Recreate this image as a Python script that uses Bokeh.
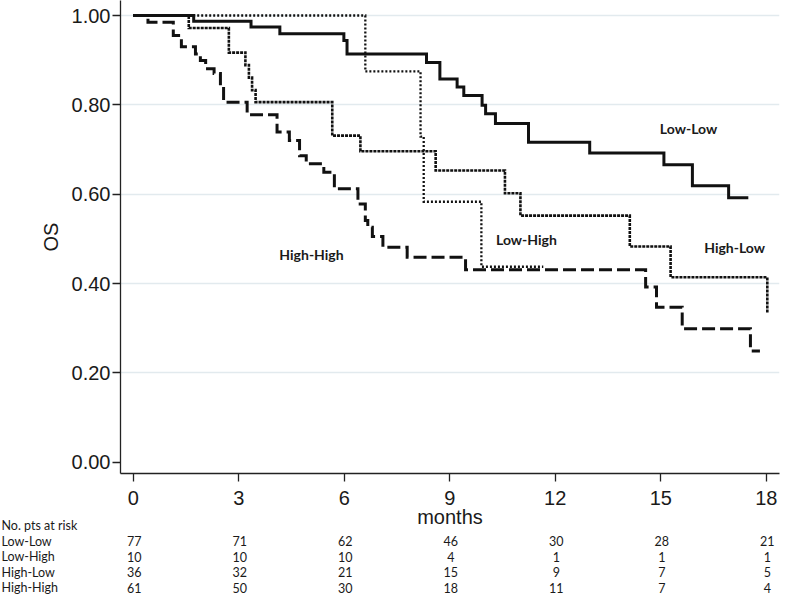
from bokeh.plotting import figure
from bokeh.layouts import column
from bokeh.models import Range1d, FixedTicker, PrintfTickFormatter, Label
from bokeh.core.properties import value
from bokeh.embed import file_html
from bokeh.resources import INLINE

# ---------------- data ----------------
month_ticks = [0, 3, 6, 9, 12, 15, 18]
os_ticks = [0.0, 0.2, 0.4, 0.6, 0.8, 1.0]

ll_t = [0, 1.72, 3.35, 4.17, 5.99, 6.08, 8.34, 8.72, 9.21, 9.40, 9.92, 10.02, 10.30,
        11.24, 12.98, 15.09, 15.90, 16.93, 17.49]
ll_s = [1.0, 0.987, 0.974, 0.959, 0.944, 0.914, 0.895, 0.858, 0.840, 0.821, 0.799, 0.780,
        0.758, 0.716, 0.692, 0.666, 0.619, 0.592, 0.592]

lh_t = [0, 6.60, 8.17, 8.26, 9.90, 11.66]
lh_s = [1.0, 0.875, 0.729, 0.583, 0.4375, 0.4375]

hl_t = [0, 1.58, 2.72, 3.19, 3.29, 3.38, 3.48, 5.66, 6.46, 8.60, 10.57, 11.01, 14.12,
        15.28, 18.03]
hl_s = [1.0, 0.972, 0.917, 0.889, 0.861, 0.833, 0.806, 0.731, 0.696, 0.653, 0.602, 0.552,
        0.483, 0.414, 0.334]

hh_t = [0, 0.42, 1.14, 1.37, 1.77, 1.91, 2.06, 2.30, 2.48, 2.57, 3.24, 4.09, 4.44, 4.73,
        4.92, 5.42, 5.72, 6.39, 6.60, 6.67, 6.80, 7.10, 7.79, 9.45, 14.57, 14.88, 15.61,
        17.55, 17.82]
hh_s = [1.0, 0.985, 0.955, 0.930, 0.914, 0.899, 0.881, 0.870, 0.840, 0.806, 0.778, 0.739,
        0.720, 0.686, 0.668, 0.649, 0.612, 0.578, 0.541, 0.526, 0.505, 0.481, 0.459, 0.431,
        0.392, 0.347, 0.299, 0.249, 0.249]

table_title = "No. pts at risk"
groups = ["Low-Low", "Low-High", "High-Low", "High-High"]
risk_ll = [77, 71, 62, 46, 30, 28, 21]
risk_lh = [10, 10, 10, 4, 1, 1, 1]
risk_hl = [36, 32, 21, 15, 9, 7, 5]
risk_hh = [61, 50, 30, 18, 11, 7, 4]
risk_rows = [risk_ll, risk_lh, risk_hl, risk_hh]

# ---------------- layout constants (pixels) ----------------
W = 800
H_MAIN = 545
FL, FR, FT, FB = 120, 779, 0, 473           # main frame edges
TICK0 = 132.7                               # x of month 0
PPM = 35.17                                 # pixels per month
Y1PX, Y0PX = 15.0, 461.7                    # y of OS=1 and OS=0
PPU = Y0PX - Y1PX

TBL_TOP = 516                               # page y where the table figure starts
TBL_H = 596 - TBL_TOP
ROW0, ROWSTEP = 9.0, 15.6                   # first row centre and row spacing in table fig


def xdata(cx):
    return (cx - TICK0) / PPM


x_start, x_end = xdata(FL), xdata(FR)
y_end = 1 + (Y1PX - FT) / PPU
y_start = -(FB - Y0PX) / PPU

p = figure(width=W, height=H_MAIN, output_backend="svg", toolbar_location=None,
           x_range=Range1d(x_start, x_end), y_range=Range1d(y_start, y_end),
           min_border_left=FL, min_border_right=W - FR, min_border_top=FT,
           min_border_bottom=H_MAIN - FB)
p.frame_align = False
p.outline_line_color = None
p.background_fill_color = "white"
p.border_fill_color = "white"

axis_font = "Liberation Sans"
for ax in (p.xaxis[0], p.yaxis[0]):
    ax.axis_line_color = "#222222"
    ax.axis_line_width = 1.3
    ax.major_tick_line_color = "#222222"
    ax.major_tick_line_width = 1.3
    ax.major_tick_in = 0
    ax.major_tick_out = 8
    ax.minor_tick_line_color = None
    ax.major_label_text_font = axis_font
    ax.major_label_text_font_size = "20px"
    ax.major_label_text_color = "#1a1a1a"
    ax.axis_label_text_font = axis_font
    ax.axis_label_text_font_size = "20px"
    ax.axis_label_text_font_style = "normal"
    ax.axis_label_text_color = "#1a1a1a"

p.xaxis.ticker = FixedTicker(ticks=month_ticks)
p.xaxis.axis_label = "months"
p.xaxis.major_label_standoff = 9
p.xaxis.axis_label_standoff = -2

p.yaxis.ticker = FixedTicker(ticks=os_ticks)
p.yaxis.formatter = PrintfTickFormatter(format="%.2f")
p.yaxis.axis_label = "OS"
p.yaxis.major_label_standoff = 2
p.yaxis.axis_label_standoff = 7

p.xgrid.grid_line_color = None
p.ygrid.ticker = FixedTicker(ticks=os_ticks[1:])
p.ygrid.grid_line_color = "#e2eaee"
p.ygrid.grid_line_width = 1.3

common = dict(mode="after", line_color="#111111", line_join="miter", line_cap="butt")
p.step(hh_t, hh_s, line_width=3, line_dash="13 5", **common)
p.step(lh_t, lh_s, line_width=2.3, line_dash="2 2", **common)
p.step(hl_t, hl_s, line_width=2.6, line_dash="3 1", **common)
p.step(ll_t, ll_s, line_width=3, **common)

# curve labels
lab_font = "Lato"
curve_labels = [("Low-Low", 15.79, 0.748), ("High-Low", 17.10, 0.481),
                ("Low-High", 11.18, 0.498), ("High-High", 5.07, 0.464)]
for txt, lx, ly in curve_labels:
    p.add_layout(Label(x=lx, y=ly, text=txt, text_align="center", text_baseline="middle",
                       text_font=lab_font, text_font_style="bold", text_font_size="14px",
                       text_color="#1a1a1a"))

# ---------------- number at risk table (second figure, same x scale) ----------------
r_top = -ROW0 / ROWSTEP
r_bot = (TBL_H - ROW0) / ROWSTEP
t = figure(width=W, height=TBL_H, output_backend="svg", toolbar_location=None,
           x_range=Range1d(xdata(0), xdata(W)), y_range=Range1d(r_bot, r_top),
           min_border=0, min_border_left=0, min_border_right=0, min_border_top=0,
           min_border_bottom=0, x_axis_type=None, y_axis_type=None)
t.frame_align = False
t.grid.visible = False
t.outline_line_color = None
t.background_fill_color = None
t.border_fill_color = None
t.margin = (-(H_MAIN - TBL_TOP), 0, 0, 0)

lab_x, lab_y, lab_txt = [xdata(1)], [0], [table_title]
num_x, num_y, num_txt = [], [], []
for gi, (g, vals) in enumerate(zip(groups, risk_rows)):
    lab_x.append(xdata(1))
    lab_y.append(gi + 1)
    lab_txt.append(g)
    for m, v in zip(month_ticks, vals):
        num_x.append(m + 0.03)
        num_y.append(gi + 1)
        num_txt.append(str(v))

tbl_style = dict(text_font=value(lab_font), text_font_size=value("12.5px"),
                 text_color="#1a1a1a", text_baseline="middle")
t.text(x=lab_x, y=lab_y, text=lab_txt, text_align="left", **tbl_style)
t.text(x=num_x, y=num_y, text=num_txt, text_align="center", **tbl_style)

layout = column(p, t, spacing=0)
open("out.html", "w").write(file_html(layout, INLINE))
